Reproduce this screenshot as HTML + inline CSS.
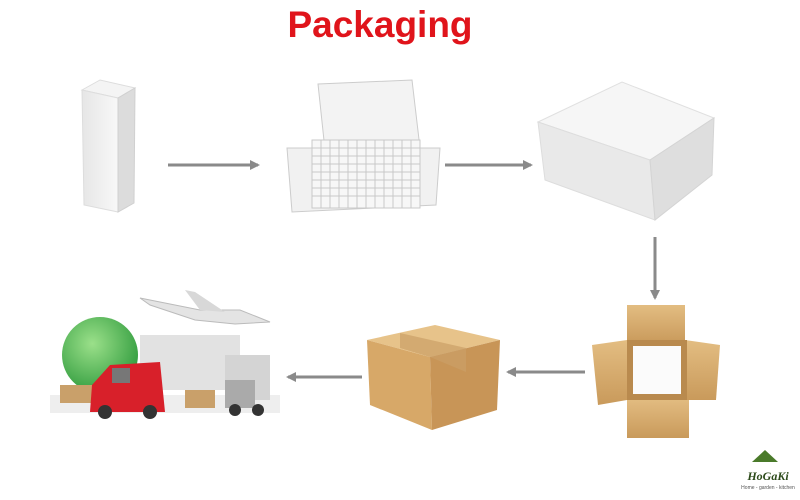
<!DOCTYPE html>
<html><head><meta charset="utf-8"><style>
html,body{margin:0;padding:0;background:#fff;width:800px;height:500px;overflow:hidden}
svg{display:block}
</style></head><body>
<svg width="800" height="500" viewBox="0 0 800 500" xmlns="http://www.w3.org/2000/svg">
<defs>
<marker id="ah" markerWidth="10" markerHeight="10" refX="8" refY="5" orient="auto" markerUnits="userSpaceOnUse"><path d="M0,0 L10,5 L0,10 Z" fill="#8a8a8a"/></marker>
<linearGradient id="wb" x1="0" x2="1"><stop offset="0" stop-color="#e6e6e6"/><stop offset="1" stop-color="#f8f8f8"/></linearGradient>
<linearGradient id="cb" x1="0" x2="0" y1="0" y2="1"><stop offset="0" stop-color="#e3bd82"/><stop offset="1" stop-color="#c99a5b"/></linearGradient>
<radialGradient id="gl" cx="0.4" cy="0.35" r="0.7"><stop offset="0" stop-color="#9be08a"/><stop offset="1" stop-color="#2e9a3c"/></radialGradient>
</defs>
<text x="380" y="37" text-anchor="middle" font-family="Liberation Sans, sans-serif" font-weight="bold" font-size="37" fill="#e0141b">Packaging</text>

<!-- tall box -->
<polygon points="82,90 100,80 135,88 118,98" fill="#f4f4f4" stroke="#ddd"/>
<polygon points="82,90 118,98 118,212 84,205" fill="url(#wb)" stroke="#ddd"/>
<polygon points="118,98 135,88 134,203 118,212" fill="#dcdcdc" stroke="#d0d0d0"/>

<line x1="168" y1="165" x2="258" y2="165" stroke="#8a8a8a" stroke-width="3" marker-end="url(#ah)"/>

<!-- grid tray -->
<polygon points="318,84 412,80 420,148 325,150" fill="#f3f3f3" stroke="#ccc"/>
<polygon points="287,148 440,148 436,205 292,212" fill="#f1f1f1" stroke="#ccc"/>
<g stroke="#c9c9c9" stroke-width="1">
<rect x="312" y="140" width="108" height="68" fill="#f7f7f7"/>
<path d="M321,140V208M330,140V208M339,140V208M348,140V208M357,140V208M366,140V208M375,140V208M384,140V208M393,140V208M402,140V208M411,140V208M312,148H420M312,156H420M312,164H420M312,172H420M312,180H420M312,188H420M312,196H420"/>
</g>

<line x1="445" y1="165" x2="531" y2="165" stroke="#8a8a8a" stroke-width="3" marker-end="url(#ah)"/>

<!-- flat box -->
<polygon points="538,122 622,82 714,118 650,160" fill="#f6f6f6" stroke="#e0e0e0"/>
<polygon points="538,122 650,160 655,220 545,180" fill="#e9e9e9" stroke="#ddd"/>
<polygon points="650,160 714,118 712,175 655,220" fill="#dedede" stroke="#d4d4d4"/>

<line x1="655" y1="237" x2="655" y2="298" stroke="#8a8a8a" stroke-width="3" marker-end="url(#ah)"/>

<!-- open carton -->
<rect x="627" y="305" width="58" height="38" fill="url(#cb)"/>
<rect x="627" y="398" width="62" height="40" fill="url(#cb)"/>
<polygon points="592,345 627,340 627,400 598,405" fill="url(#cb)"/>
<polygon points="685,340 720,345 716,400 687,400" fill="url(#cb)"/>
<rect x="627" y="340" width="60" height="60" fill="#b98a4e"/>
<rect x="633" y="346" width="48" height="48" fill="#fbfbfb"/>

<line x1="585" y1="372" x2="508" y2="372" stroke="#8a8a8a" stroke-width="3" marker-end="url(#ah)"/>

<!-- cardboard box -->
<polygon points="367,340 435,325 500,340 430,357" fill="#e7c38a"/>
<polygon points="367,340 430,357 432,430 370,405" fill="#d7a868"/>
<polygon points="430,357 500,340 497,410 432,430" fill="#c89557"/>
<polygon points="400,333 466,348 466,372 430,357 400,348" fill="#caa067" opacity="0.7"/>

<line x1="362" y1="377" x2="288" y2="377" stroke="#8a8a8a" stroke-width="3" marker-end="url(#ah)"/>

<!-- transport -->
<circle cx="100" cy="355" r="38" fill="url(#gl)"/>
<rect x="50" y="395" width="230" height="18" fill="#eeeeee"/>
<path d="M140,298 L200,310 L240,310 L270,322 L235,324 L195,320 L150,305 Z" fill="#e4e4e4" stroke="#bbb"/>
<path d="M200,310 L185,290 L195,292 L225,312 Z" fill="#d8d8d8"/>
<rect x="140" y="335" width="100" height="55" fill="#e2e2e2"/>
<rect x="225" y="355" width="45" height="45" fill="#d4d4d4"/>
<rect x="60" y="385" width="40" height="18" fill="#c9a06a"/>
<path d="M90,412 L92,385 L110,365 L160,362 L165,412 Z" fill="#d8202a"/>
<rect x="112" y="368" width="18" height="15" fill="#777"/>
<circle cx="105" cy="412" r="7" fill="#333"/><circle cx="150" cy="412" r="7" fill="#333"/>
<rect x="185" y="390" width="30" height="18" fill="#c9a06a"/>
<rect x="225" y="380" width="30" height="28" fill="#aaa"/>
<circle cx="235" cy="410" r="6" fill="#333"/><circle cx="258" cy="410" r="6" fill="#333"/>

<!-- logo -->
<path d="M752,462 L765,450 L778,462 Z" fill="#4a7a2a"/>
<text x="768" y="480" text-anchor="middle" font-family="Liberation Serif, serif" font-style="italic" font-weight="bold" font-size="12" fill="#2c4a1a">HoGaKi</text>
<text x="768" y="489" text-anchor="middle" font-family="Liberation Sans, sans-serif" font-size="5" fill="#555">Home - garden - kitchen</text>
</svg>
</body></html>
